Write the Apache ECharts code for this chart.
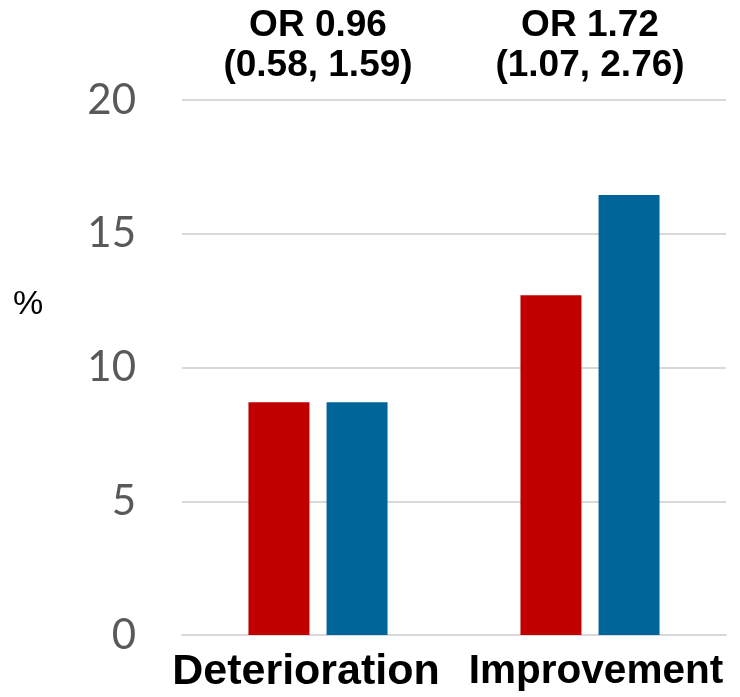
<!DOCTYPE html>
<html>
<head>
<meta charset="utf-8">
<script src="https://cdn.jsdelivr.net/npm/echarts@6/dist/echarts.min.js"></script>
<style>html,body{margin:0;padding:0;background:#fff}#c{width:740px;height:697px}</style>
</head>
<body>
<div id="c"></div>
<script>
const categories = ['Deterioration', 'Improvement'];
const annotations = ['OR 0.96\n(0.58, 1.59)', 'OR 1.72\n(1.07, 2.76)'];
const seriesRed = [8.7, 12.7];
const seriesBlue = [8.7, 16.45];
const yTicks = [0, 5, 10, 15, 20];
const yAxisTitle = '%';

const chart = echarts.init(document.getElementById('c'), null, {renderer: 'canvas'});
const bold = {color: '#000', fontFamily: 'Liberation Sans', fontWeight: 'bold'};
chart.setOption({
  animation: false,
  backgroundColor: '#fff',
  grid: {left: 182, right: 14, top: 100, bottom: 62, containLabel: false, outerBoundsMode: 'none'},
  graphic: [{
    type: 'text', left: 13, top: 288,
    style: {text: yAxisTitle, fill: '#000', font: '34px "Liberation Sans"'}
  }],
  xAxis: [{
    type: 'category', data: categories, position: 'bottom',
    axisLine: {show: true, lineStyle: {color: '#D9D9D9', width: 2}},
    axisTick: {show: false},
    axisLabel: {
      interval: 0, hideOverlap: false, margin: 16,
      formatter: (v, i) => i === 0 ? '{a|' + v + '}' : '{b|' + v + '}',
      rich: {
        a: Object.assign({fontSize: 43, padding: [0, 24, 0, 0]}, bold),
        b: Object.assign({fontSize: 40.5, padding: [0, 0, 0, 12]}, bold)
      }
    }
  }, {
    type: 'category', data: annotations, position: 'top',
    axisLine: {show: false}, axisTick: {show: false},
    axisLabel: Object.assign({interval: 0, hideOverlap: false, fontSize: 37, lineHeight: 40, margin: 14}, bold)
  }],
  yAxis: {
    type: 'value', min: yTicks[0], max: yTicks[yTicks.length - 1], interval: 5,
    axisLine: {show: false}, axisTick: {show: false},
    axisLabel: {color: '#595959', fontFamily: 'Lato', fontSize: 42, margin: 46},
    splitLine: {lineStyle: {color: '#D9D9D9', width: 2}}
  },
  series: [
    {type: 'bar', data: seriesRed, barWidth: 61, barGap: '28%', itemStyle: {color: '#C00000'}},
    {type: 'bar', data: seriesBlue, barWidth: 61, barGap: '28%', itemStyle: {color: '#006699'}}
  ]
});
</script>
</body>
</html>
